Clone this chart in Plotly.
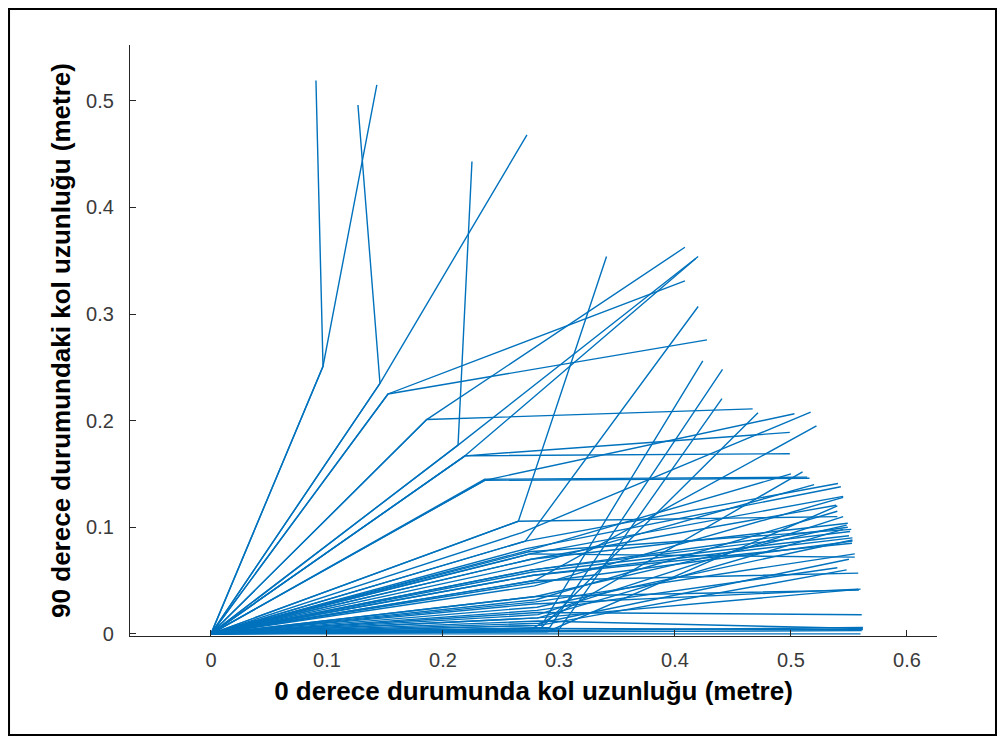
import plotly.graph_objects as go

# Elbow (first joint) and end (second joint) positions, metres
elbow_x = [0.0966, 0.0966, 0.1457, 0.1457, 0.1526, 0.1526, 0.186, 0.186, 0.213, 0.213,
           0.219, 0.219, 0.219, 0.236, 0.236, 0.236, 0.265, 0.265, 0.271, 0.268,
           0.271, 0.272, 0.275, 0.275, 0.276, 0.276, 0.277, 0.277, 0.278, 0.278,
           0.279, 0.279, 0.280, 0.280, 0.280, 0.281, 0.281, 0.282, 0.282, 0.283,
           0.284, 0.285, 0.292, 0.300, 0.277, 0.280, 0.280, 0.285, 0.290, 0.283,
           0.282, 0.279, 0.278, 0.273, 0.276, 0.281, 0.274, 0.277, 0.280, 0.279,
           0.281, 0.283]
elbow_y = [0.251, 0.251, 0.235, 0.235, 0.225, 0.225, 0.201, 0.201, 0.177, 0.177,
           0.167, 0.167, 0.167, 0.144, 0.145, 0.144, 0.1056, 0.1056, 0.087, 0.095,
           0.087, 0.080, 0.075, 0.075, 0.070, 0.070, 0.060, 0.060, 0.055, 0.055,
           0.050, 0.050, 0.035, 0.035, 0.030, 0.025, 0.020, 0.015, 0.012, 0.005,
           0.005, 0.008, 0.006, 0.004, 0.005, 0.000, 0.002, 0.003, 0.002, 0.010,
           0.018, 0.045, 0.028, 0.078, 0.065, 0.022, 0.077, 0.058, 0.032, 0.048,
           0.015, 0.008]
end_x = [0.0905, 0.143, 0.1267, 0.2724, 0.4086, 0.4276, 0.4086, 0.467, 0.225, 0.420,
         0.418, 0.499, 0.499, 0.516, 0.514, 0.503, 0.341, 0.540, 0.420, 0.517,
         0.5405, 0.543, 0.545, 0.555, 0.539, 0.549, 0.551, 0.549, 0.5526, 0.553,
         0.558, 0.522, 0.5586, 0.548, 0.555, 0.553, 0.561, 0.545, 0.562, 0.562,
         0.4716, 0.424, 0.441, 0.4405, 0.510, 0.560, 0.561, 0.562, 0.540, 0.550,
         0.545, 0.545, 0.558, 0.500, 0.520, 0.540, 0.552, 0.550, 0.540, 0.553,
         0.560, 0.548]
end_y = [0.519, 0.515, 0.496, 0.468, 0.331, 0.2757, 0.3626, 0.211, 0.443, 0.354,
         0.352, 0.169, 0.189, 0.146, 0.147, 0.2065, 0.354, 0.110, 0.307, 0.208,
         0.141, 0.138, 0.129, 0.072, 0.1206, 0.1037, 0.096, 0.100, 0.085, 0.090,
         0.057, 0.195, 0.041, 0.102, 0.075, 0.088, 0.018, 0.098, 0.005, 0.004,
         0.2075, 0.256, 0.248, 0.2206, 0.152, 0.000, 0.003, 0.006, 0.120, 0.070,
         0.110, 0.128, 0.042, 0.150, 0.140, 0.062, 0.098, 0.092, 0.115, 0.087,
         0.042, 0.060]

x_ticks = [0, 0.1, 0.2, 0.3, 0.4, 0.5, 0.6]
x_tick_labels = ["0", "0.1", "0.2", "0.3", "0.4", "0.5", "0.6"]
y_ticks = [0, 0.1, 0.2, 0.3, 0.4, 0.5]
y_tick_labels = ["0", "0.1", "0.2", "0.3", "0.4", "0.5"]

xs, ys = [], []
for ex, ey, nx, ny in zip(elbow_x, elbow_y, end_x, end_y):
    xs += [0, ex, nx, None]
    ys += [0, ey, ny, None]

fig = go.Figure()
fig.add_trace(go.Scatter(x=xs, y=ys, mode="lines",
                         line=dict(color="#0072BD", width=1.4),
                         connectgaps=False, showlegend=False, hoverinfo="skip"))

axis_font = dict(family="Liberation Sans, Arial, sans-serif", size=20, color="#3a3a3a")
title_font = dict(family="Liberation Sans, Arial, sans-serif", size=26, color="#000000")

fig.update_layout(
    width=989, height=728,
    margin=dict(l=122, r=60, t=37, b=100),
    paper_bgcolor="white", plot_bgcolor="white",
    showlegend=False,
    xaxis=dict(range=[-0.0698, 0.6259], tickvals=x_ticks, ticktext=x_tick_labels,
               showgrid=False, zeroline=False, showline=True, linecolor="#262626",
               linewidth=1.2, ticks="inside", ticklen=6, tickcolor="#262626",
               tickfont=axis_font, ticklabelstandoff=6,
               title=dict(text="<b>0 derece durumunda kol uzunluğu (metre)</b>",
                          font=title_font, standoff=11)),
    yaxis=dict(range=[-0.002, 0.5523], tickvals=y_ticks, ticktext=y_tick_labels,
               showgrid=False, zeroline=False, showline=True, linecolor="#262626",
               linewidth=1.2, ticks="inside", ticklen=6, tickcolor="#262626",
               tickfont=axis_font, ticklabelstandoff=11,
               title=dict(text="<b>90 derece durumundaki kol uzunluğu (metre)</b>",
                          font=title_font, standoff=7)),
)

fig.add_shape(type="rect", xref="paper", yref="paper",
              x0=-0.1499, x1=1.0731, y0=-0.1675, y1=1.0609,
              line=dict(color="black", width=2), fillcolor="rgba(0,0,0,0)")

fig.write_html("out.html")
